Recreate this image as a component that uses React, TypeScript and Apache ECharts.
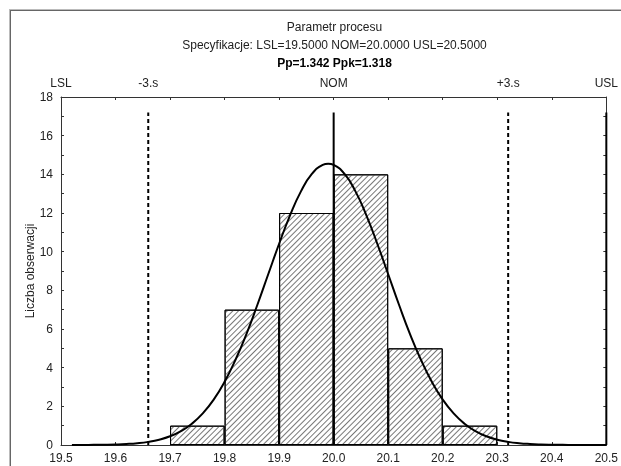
import React, { useEffect, useRef } from "react";
import * as echarts from "echarts";

// Histogram bins (lower edges) and observed counts
const binLabels = ["19.5", "19.6", "19.7", "19.8", "19.9", "20.0", "20.1", "20.2", "20.3", "20.4"];
const binCounts = [0, 0, 1, 7, 12, 14, 5, 1, 0, 0];

// Fitted normal curve
const curveX = [19.52, 19.54, 19.56, 19.58, 19.6, 19.62, 19.64, 19.66, 19.68, 19.7, 19.72, 19.74, 19.76, 19.78, 19.8, 19.82, 19.84, 19.86, 19.88, 19.9, 19.92, 19.94, 19.96, 19.98, 19.99, 20.0, 20.02, 20.04, 20.06, 20.08, 20.1, 20.12, 20.14, 20.16, 20.18, 20.2, 20.22, 20.24, 20.26, 20.28, 20.3, 20.32, 20.34, 20.36, 20.38, 20.4, 20.42, 20.44, 20.46, 20.48, 20.5];
const curveY = [0.002, 0.003, 0.007, 0.014, 0.027, 0.051, 0.092, 0.162, 0.274, 0.45, 0.716, 1.1, 1.635, 2.35, 3.27, 4.41, 5.74, 7.24, 8.83, 10.41, 11.88, 13.12, 14.02, 14.49, 14.55, 14.49, 14.02, 13.12, 11.88, 10.41, 8.83, 7.24, 5.74, 4.41, 3.27, 2.35, 1.635, 1.1, 0.716, 0.45, 0.274, 0.162, 0.092, 0.051, 0.027, 0.014, 0.007, 0.003, 0.002, 0.001, 0.0005];

// Specification / sigma markers
const specValues = [19.5, 19.66, 20.0, 20.32, 20.5];
const specLabels = ["LSL", "-3.s", "NOM", "+3.s", "USL"];
const specDashed = [false, true, false, true, false];
const specDrawn = [false, true, true, true, true];
const specTop = 17.2;

// Axis ranges
const xMin = 19.5;
const xMax = 20.5;
const yMin = 0;
const yMax = 18;

const titleLines = [
  "Parametr procesu",
  "Specyfikacje: LSL=19.5000 NOM=20.0000 USL=20.5000",
  "Pp=1.342 Ppk=1.318",
];

export default function App() {
  const ref = useRef<HTMLDivElement>(null);
  useEffect(() => {
    if (!ref.current) return;
    const chart = echarts.init(ref.current, null, { renderer: "svg" });
    const font = "Liberation Sans, Arial, sans-serif";
    const txt = "#222";
    const axisCol = "#333";

    const specSeries: any[] = [];
    specValues.forEach((v, i) => {
      if (!specDrawn[i]) return;
      specSeries.push({
        type: "line",
        xAxisIndex: 0,
        yAxisIndex: 0,
        data: [
          [v, 0],
          [v, specTop],
        ],
        showSymbol: false,
        symbol: "none",
        silent: true,
        z: 5,
        lineStyle: { color: "#000", width: 2, type: specDashed[i] ? [4, 3] : "solid" },
      });
    });

    chart.setOption({
      animation: false,
      textStyle: { fontFamily: font },
      grid: { left: 61, right: 13, top: 97, bottom: 21, containLabel: false },
      graphic: [
        { type: "line", shape: { x1: 9, y1: 9.5, x2: 621, y2: 9.5 }, style: { stroke: "#bbb", lineWidth: 1 } },
        { type: "line", shape: { x1: 9, y1: 10.5, x2: 621, y2: 10.5 }, style: { stroke: "#666", lineWidth: 1 } },
        { type: "line", shape: { x1: 9.5, y1: 10, x2: 9.5, y2: 466 }, style: { stroke: "#bbb", lineWidth: 1 } },
        { type: "line", shape: { x1: 10.5, y1: 10, x2: 10.5, y2: 466 }, style: { stroke: "#666", lineWidth: 1 } },
        ...titleLines.map((t, i) => ({
          type: "text",
          x: 334.5,
          y: 27 + i * 18,
          style: {
            text: t,
            textAlign: "center",
            textVerticalAlign: "middle",
            fontSize: 12,
            fontWeight: i === 2 ? "bold" : "normal",
            fontFamily: font,
            fill: i === 2 ? "#000" : txt,
          },
        })),
      ],
      xAxis: [
        {
          type: "value",
          min: xMin,
          max: xMax,
          interval: 0.1,
          position: "bottom",
          axisLine: { show: true, lineStyle: { color: axisCol, width: 1 } },
          axisTick: { show: true, inside: true, length: 3, lineStyle: { color: axisCol } },
          axisLabel: { formatter: (v: number) => v.toFixed(1), fontSize: 12, color: txt, margin: 7, fontFamily: font },
          splitLine: { show: false },
        },
        {
          type: "category",
          data: binLabels,
          show: false,
          position: "bottom",
          boundaryGap: true,
        },
        {
          type: "value",
          min: xMin,
          max: xMax,
          interval: 0.1,
          position: "top",
          axisLine: { show: true, lineStyle: { color: axisCol, width: 1 } },
          axisTick: { show: true, inside: true, length: 3, lineStyle: { color: axisCol } },
          axisLabel: { show: false },
          splitLine: { show: false },
        },
        {
          type: "value",
          min: xMin,
          max: xMax,
          interval: 0.02,
          position: "top",
          axisLine: { show: false },
          axisTick: { show: false },
          axisLabel: {
            show: true,
            fontSize: 12,
            color: txt,
            margin: 8,
            fontFamily: font,
            formatter: (v: number) => {
              const idx = specValues.findIndex((s) => Math.abs(s - v) < 1e-4);
              return idx >= 0 ? specLabels[idx] : "";
            },
          },
          splitLine: { show: false },
        },
      ],
      yAxis: [
        {
          type: "value",
          min: yMin,
          max: yMax,
          interval: 2,
          position: "left",
          name: "Liczba obserwacji",
          nameLocation: "middle",
          nameGap: 25,
          nameMoveOverlap: false,
          nameTextStyle: { fontSize: 12, color: txt, fontFamily: font },
          axisLine: { show: true, lineStyle: { color: axisCol, width: 1 } },
          axisTick: { show: true, inside: true, length: 3, lineStyle: { color: axisCol } },
          minorTick: { show: true, splitNumber: 2, length: 3, lineStyle: { color: axisCol } },
          axisLabel: { fontSize: 12, color: txt, margin: 8, fontFamily: font },
          splitLine: { show: false },
        },
        {
          type: "value",
          min: yMin,
          max: yMax,
          interval: 1,
          position: "right",
          axisLine: { show: true, lineStyle: { color: axisCol, width: 1 } },
          axisTick: { show: true, inside: true, length: 3, lineStyle: { color: axisCol } },
          axisLabel: { show: false },
          splitLine: { show: false },
        },
      ],
      series: [
        {
          type: "bar",
          xAxisIndex: 1,
          yAxisIndex: 0,
          data: binCounts.map((c) => (c > 0 ? c : "-")),
          barCategoryGap: "0%",
          barGap: "0%",
          silent: true,
          z: 2,
          itemStyle: {
            color: "#fff",
            borderColor: "#000",
            borderWidth: 1,
            decal: {
              symbol: "rect",
              symbolSize: 1,
              dashArrayX: [1, 0],
              dashArrayY: [1, 2.6],
              rotation: -Math.PI / 4,
              color: "#777",
              backgroundColor: "#fff",
            },
          },
        },
        {
          type: "line",
          xAxisIndex: 0,
          yAxisIndex: 0,
          data: curveX.map((x, i) => [x, curveY[i]]),
          smooth: true,
          showSymbol: false,
          symbol: "none",
          silent: true,
          z: 6,
          lineStyle: { color: "#000", width: 2 },
        },
        ...specSeries,
      ],
    });
    return () => chart.dispose();
  }, []);
  return <div ref={ref} style={{ position: "fixed", left: 0, top: 0, width: 621, height: 466 }} />;
}
